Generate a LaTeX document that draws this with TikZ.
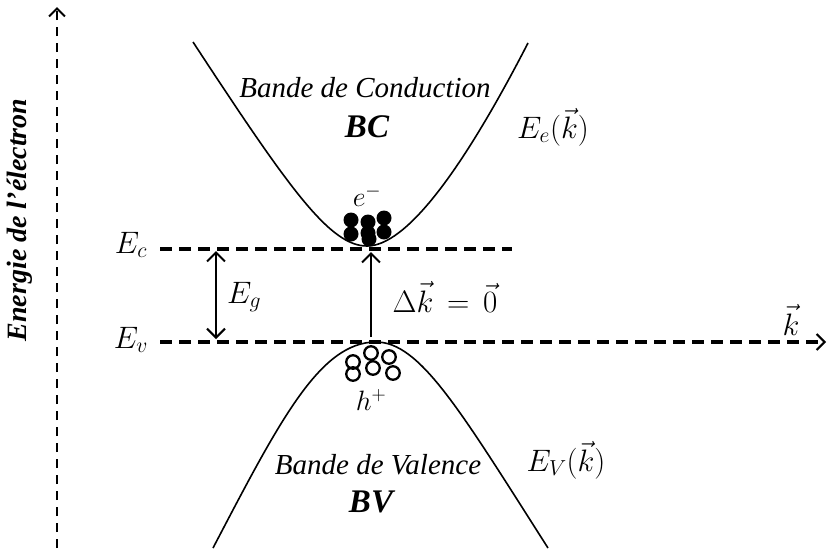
\RequirePackage{fix-cm}
\documentclass[tikz,border=0pt]{standalone}
\usepackage{fontspec}
\setmainfont{Liberation Serif}
\usetikzlibrary{arrows.meta}
\begin{document}
\begin{tikzpicture}[x=1pt,y=-1pt,
  band/.style={line width=1.6pt},
  level/.style={line width=4pt, dash pattern=on 12pt off 7pt},
  axis/.style={line width=2.6pt, dash pattern=on 9pt off 7pt},
  barb/.tip={Straight Barb[length=9pt,width=18pt,line width=2pt]},
  lbl/.style={font=\fontsize{29}{31}\selectfont\itshape, inner sep=0pt},
  blbl/.style={font=\fontsize{33}{35}\selectfont\bfseries\itshape, inner sep=0pt},
  mlbl/.style={font=\fontsize{31}{33}\selectfont, inner sep=0pt},
  slbl/.style={font=\fontsize{28}{30}\selectfont, inner sep=0pt},
  electron/.style={circle, fill=black, minimum size=15pt, inner sep=0pt},
  hole/.style={circle, draw=black, line width=2.3pt, minimum size=13.5pt, inner sep=0pt}]
\useasboundingbox (0,0) rectangle (827,555);
% axes and levels
\coordinate (yB) at (57,548);
\coordinate (yT) at (57,7);
\coordinate (ecL) at (160,249);
\coordinate (ecR) at (512,249);
\coordinate (evL) at (160,342);
\coordinate (evR) at (826,342);
\draw[axis,-{Straight Barb[length=8pt,width=16pt,line width=2pt]}] (yB) -- (yT);
\draw[level] (ecL) -- (ecR);
\draw[level,line width=3.3pt,-{Straight Barb[length=8pt,width=16pt,line width=2pt]}] (evL) -- (evR);
% bands
\coordinate (cL) at (193,42);
\coordinate (cV) at (367,246);
\coordinate (cR) at (528,43);
\draw[band] (cL) .. controls (290,190) and (330,246) .. (cV)
  .. controls (405,246) and (460,175) .. (cR);
\coordinate (vL) at (213,548);
\coordinate (vV) at (376,342);
\coordinate (vR) at (548,548);
\draw[band] (vL) .. controls (280,420) and (320,342) .. (vV)
  .. controls (420,342) and (460,410) .. (vR);
% gap arrows
\coordinate (egT) at (216,251);
\coordinate (egB) at (216,339);
\draw[line width=2pt,{barb}-{barb}] (egT) -- (egB);
\coordinate (dkB) at (371,337);
\coordinate (dkT) at (371,252);
\draw[line width=2pt,-{barb}] (dkB) -- (dkT);
% electrons
\node[electron] (e1) at (351,220) {};
\node[electron] (e2) at (368,222) {};
\node[electron] (e3) at (384,218) {};
\node[electron] (e4) at (351,234) {};
\node[electron] (e5) at (368,233) {};
\node[electron] (e6) at (384,232) {};
\node[electron] (e7) at (369,239) {};
% holes
\node[hole] (h1) at (353,362) {};
\node[hole] (h2) at (371,353) {};
\node[hole] (h3) at (389,357) {};
\node[hole] (h4) at (353,374) {};
\node[hole] (h5) at (373,368) {};
\node[hole] (h6) at (393,373) {};
% labels
\node[lbl] (bc) at (365,88) {Bande de Conduction};
\node[blbl] (bcb) at (367,127) {BC};
\node[mlbl] (eck) at (553,127) {$E_e(\vec{k})$};
\node[slbl] (em) at (367,196) {$e^-$};
\node[slbl] (hp) at (371,400) {$h^+$};
\node[lbl] (bv) at (378,465) {Bande de Valence};
\node[blbl] (bvb) at (371,502) {BV};
\node[mlbl] (evk) at (566,460) {$E_V(\vec{k})$};
\node[mlbl] (Ec) at (131,245) {$E_c$};
\node[mlbl] (Ev) at (131,340) {$E_v$};
\node[mlbl] (Eg) at (244,297) {$E_g$};
\node[mlbl] (dk) at (445,297) {$\Delta\vec{k}\,=\,\vec{0}$};
\node[mlbl] (kk) at (791,320) {$\vec{k}$};
\node[font=\fontsize{28}{30}\selectfont\bfseries\itshape, inner sep=0pt, rotate=90] (en) at (20,220) {Energie de l'électron};
\end{tikzpicture}
\end{document}
